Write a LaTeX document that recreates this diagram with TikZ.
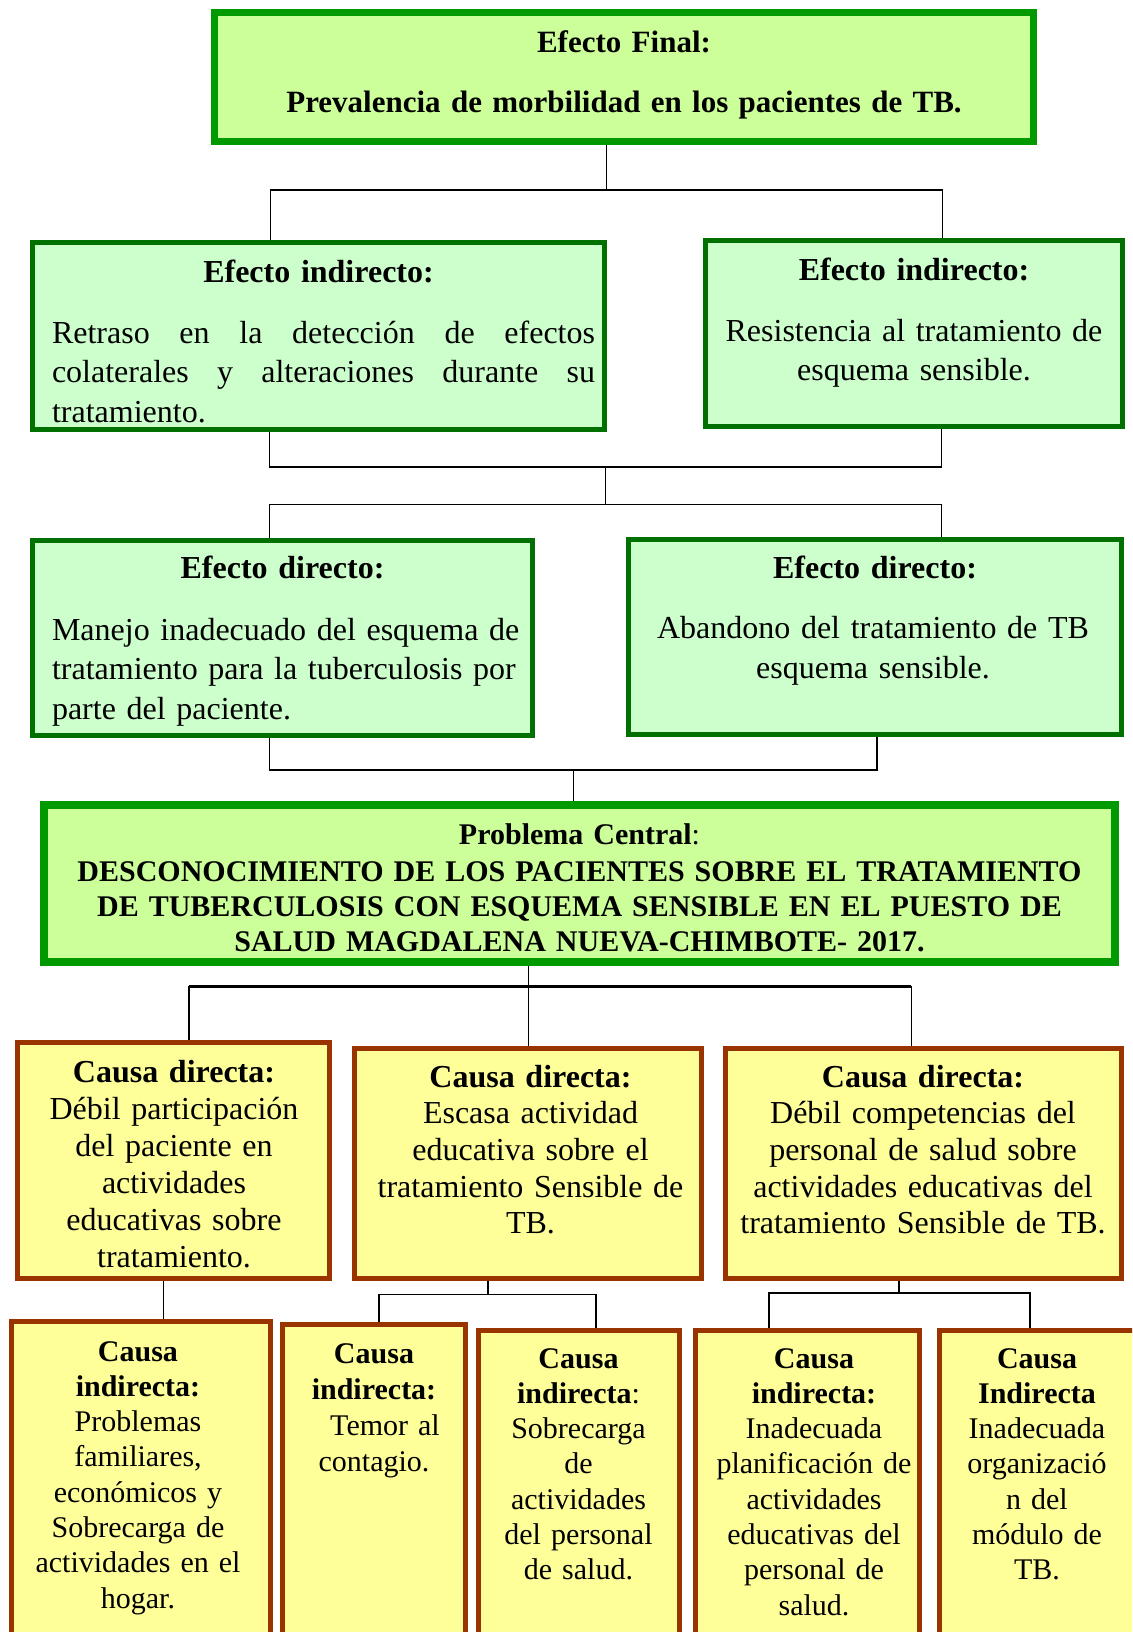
\documentclass[tikz,border=0pt]{standalone}
\usepackage{fontspec}
\setmainfont{Liberation Serif}
\definecolor{limefill}{HTML}{CCFF99}
\definecolor{mintfill}{HTML}{CCFFCC}
\definecolor{creamfill}{HTML}{FFFF99}
\definecolor{brightgreen}{HTML}{009900}
\definecolor{darkgreen}{HTML}{007000}
\definecolor{rust}{HTML}{993300}
\newcommand{\effectfont}{\fontsize{32}{39.5}\selectfont}
\newcommand{\causefont}{\fontsize{30}{35.3}\selectfont}

\begin{document}
\begin{tikzpicture}[x=1pt,y=-1pt,
	finalbox/.style={draw=brightgreen,fill=limefill,line width=7pt,inner sep=0pt},
	effectbox/.style={draw=darkgreen,fill=mintfill,line width=5pt,inner sep=0pt},
	causebox/.style={draw=rust,fill=creamfill,line width=5pt,inner sep=0pt},
	txt/.style={anchor=base,inner sep=0pt,align=center},
	link/.style={line width=1.6pt}]
			\useasboundingbox (0,0) rectangle (1132,1632);
			\clip (0,0) rectangle (1132,1632);
			\fill[white] (0,0) rectangle (1132,1632);
			\draw (624,77) node [finalbox,minimum width=819pt,minimum height=129pt] (efin) {};
			\draw (318.5,336) node [effectbox,minimum width=572pt,minimum height=187pt] (eind1) {};
			\draw (914,333.5) node [effectbox,minimum width=417pt,minimum height=186pt] (eind2) {};
			\draw (282.5,638) node [effectbox,minimum width=500pt,minimum height=195pt] (edir1) {};
			\draw (875,637) node [effectbox,minimum width=493pt,minimum height=195pt] (edir2) {};
			\draw (579.5,883.5) node [finalbox,line width=8pt,minimum width=1071pt,minimum height=157pt] (pcen) {};
			\draw (173.5,1160.5) node [causebox,minimum width=312pt,minimum height=236pt] (cdir1) {};
			\draw (528,1163.5) node [causebox,minimum width=347pt,minimum height=230pt] (cdir2) {};
			\draw (923.5,1163.5) node [causebox,minimum width=396pt,minimum height=230pt] (cdir3) {};
			\draw (141,1489.5) node [causebox,minimum width=259pt,minimum height=336pt] (cind1) {};
			\draw (374,1491) node [causebox,minimum width=183pt,minimum height=333pt] (cind2) {};
			\draw (578.5,1494) node [causebox,minimum width=201pt,minimum height=327.5pt] (cind3) {};
			\draw (807.5,1494) node [causebox,minimum width=224pt,minimum height=327.5pt] (cind4) {};
			\draw (1041,1494) node [causebox,minimum width=203pt,minimum height=327.5pt] (cind5) {};
			\draw (624,53) node [txt,text width=800pt,font=\fontsize{31}{60}\selectfont\bfseries] (efin-t) {Efecto Final:\\Prevalencia de morbilidad en los pacientes de TB.};
			\draw (318.5,282) node [txt,text width=560pt,font=\effectfont\bfseries] (eind1-h) {Efecto indirecto:};
			\draw (323.5,343) node [txt,text width=543pt,align=justify,font=\effectfont] (eind1-t) {Retraso en la detección de efectos\linebreak colaterales y alteraciones durante su\linebreak tratamiento.};
			\draw (914,280) node [txt,text width=400pt,font=\effectfont\bfseries] (eind2-h) {Efecto indirecto:};
			\draw (914,341) node [txt,text width=400pt,font=\fontsize{32}{39}\selectfont] (eind2-t) {Resistencia al tratamiento de\\esquema sensible.};
			\draw (282.5,578) node [txt,text width=480pt,font=\effectfont\bfseries] (edir1-h) {Efecto directo:};
			\draw (292,640) node [txt,text width=480pt,align=left,font=\effectfont] (edir1-t) {Manejo inadecuado del esquema de\\tratamiento para la tuberculosis por\\parte del paciente.};
			\draw (875,578) node [txt,text width=470pt,font=\effectfont\bfseries] (edir2-h) {Efecto directo:};
			\draw (873,638.5) node [txt,text width=470pt,font=\effectfont] (edir2-t) {Abandono del tratamiento de TB\\esquema sensible.};
			\draw (579.5,844) node [txt,text width=1060pt,font=\fontsize{30}{35}\selectfont\bfseries] (pcen-t) {Problema Central\textmd{:}\\[2pt]DESCONOCIMIENTO DE LOS PACIENTES SOBRE EL TRATAMIENTO\\DE TUBERCULOSIS CON ESQUEMA SENSIBLE EN EL PUESTO DE\\SALUD MAGDALENA NUEVA-CHIMBOTE- 2017.};
			\draw (174,1082) node [txt,text width=300pt,font=\fontsize{32}{37}\selectfont] (cdir1-t) {\textbf{Causa directa:}\\Débil participación\\del paciente en\\actividades\\educativas sobre\\tratamiento.};
			\draw (530.5,1087) node [txt,text width=340pt,font=\fontsize{32}{36.7}\selectfont] (cdir2-t) {\textbf{Causa directa:}\\Escasa actividad\\educativa sobre el\\tratamiento Sensible de\\TB.};
			\draw (923,1087) node [txt,text width=390pt,font=\fontsize{32}{36.7}\selectfont] (cdir3-t) {\textbf{Causa directa:}\\Débil competencias del\\personal de salud sobre\\actividades educativas del\\tratamiento Sensible de TB.};
			\draw (138,1361) node [txt,text width=250pt,font=\causefont] (cind1-t) {\textbf{Causa}\\\textbf{indirecta:}\\Problemas\\familiares,\\económicos y\\Sobrecarga de\\actividades en el\\hogar.};
			\draw (374,1363) node [txt,text width=180pt,font=\fontsize{30}{36}\selectfont] (cind2-t) {\textbf{Causa}\\\textbf{indirecta:}\\\hspace*{22pt}Temor al\\contagio.};
			\draw (578.5,1368) node [txt,text width=200pt,font=\causefont] (cind3-t) {\textbf{Causa}\\\textbf{indirecta}:\\Sobrecarga\\de\\actividades\\del personal\\de salud.};
			\draw (814,1368) node [txt,text width=220pt,font=\causefont] (cind4-t) {\textbf{Causa}\\\textbf{indirecta:}\\Inadecuada\\planificación de\\actividades\\educativas del\\personal de\\salud.};
			\draw (1037,1368) node [txt,text width=200pt,font=\causefont] (cind5-t) {\textbf{Causa}\\\textbf{Indirecta}\\Inadecuada\\organizació\\n del\\módulo de\\TB.};
			\coordinate (k1) at (606.6,190);
			\coordinate (k1l) at (270.5,190);
			\coordinate (k1r) at (942.6,190);
			\coordinate (k2) at (605.5,467);
			\coordinate (k2l) at (269.5,467);
			\coordinate (k2r) at (941.6,467);
			\coordinate (k3) at (605.5,504.6);
			\coordinate (k3l) at (269.5,504.6);
			\coordinate (k3r) at (941.6,504.6);
			\coordinate (k4) at (573.3,770);
			\coordinate (k4l) at (269.5,770);
			\coordinate (k4r) at (877,770);
			\coordinate (k5) at (528.5,986);
			\coordinate (k5l) at (189,986);
			\coordinate (k5r) at (911.4,986);
			\coordinate (k6) at (163.3,1300);
			\coordinate (k7) at (488,1294.3);
			\coordinate (k7l) at (378.7,1294.3);
			\coordinate (k7r) at (596.1,1294.3);
			\coordinate (k8) at (898.9,1293);
			\coordinate (k8l) at (768.9,1293);
			\coordinate (k8r) at (1030,1293);
			\draw[link] (efin.south -| k1) -- (k1);
			\draw[link] (eind1.north -| k1l) -- (k1l) -- (k1r) -- (eind2.north -| k1r);
			\draw[link] (eind1.south -| k2l) -- (k2l) -- (k2r) -- (eind2.south -| k2r);
			\draw[link] (k2) -- (k3);
			\draw[link] (edir1.north -| k3l) -- (k3l) -- (k3r) -- (edir2.north -| k3r);
			\draw[link] (edir1.south -| k4l) -- (k4l) -- (k4r) -- (edir2.south -| k4r);
			\draw[link] (k4) -- (pcen.north -| k4);
			\draw[link] (pcen.south -| k5) -- (cdir2.north -| k5);
			\draw[link,line width=3pt] (k5l) -- (k5r);
			\draw[link] (k5l) -- (cdir1.north -| k5l);
			\draw[link] (k5r) -- (cdir3.north -| k5r);
			\draw[link] (cdir1.south -| k6) -- (cind1.north -| k6);
			\draw[link] (cdir2.south -| k7) -- (k7);
			\draw[link] (cind2.north -| k7l) -- (k7l) -- (k7r) -- (cind3.north -| k7r);
			\draw[link] (cdir3.south -| k8) -- (k8);
			\draw[link] (cind4.north -| k8l) -- (k8l) -- (k8r) -- (cind5.north -| k8r);
		\end{tikzpicture}
\end{document}
